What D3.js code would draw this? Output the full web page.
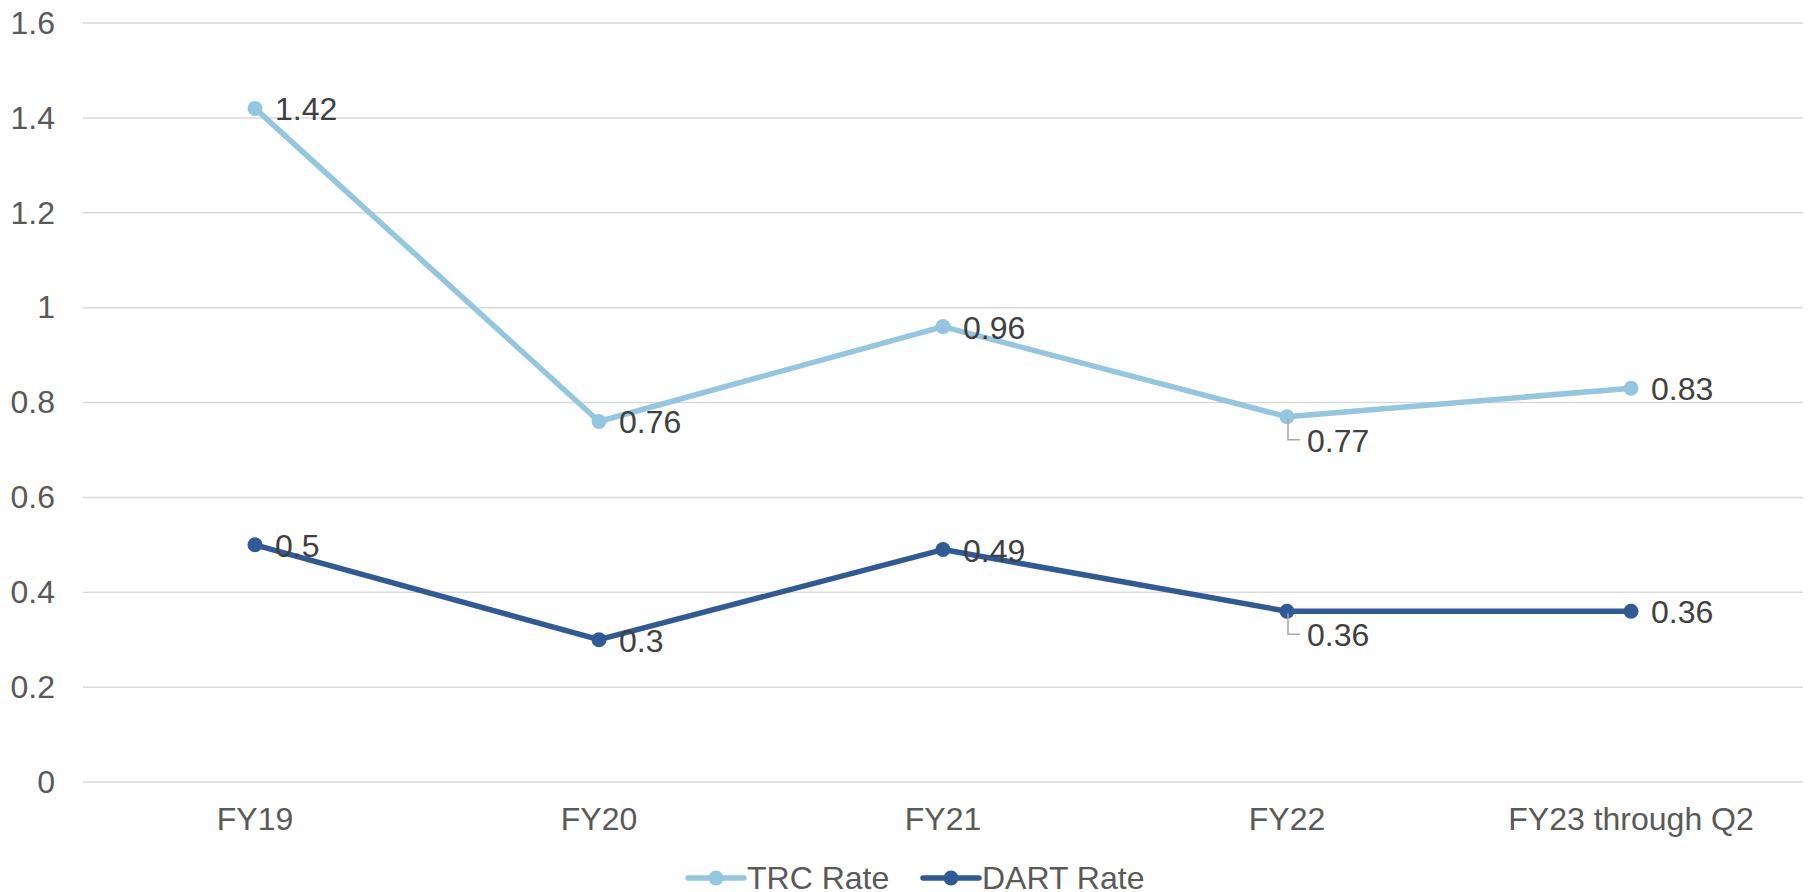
<!DOCTYPE html>
<html>
<head>
<meta charset="utf-8">
<script src="https://cdn.jsdelivr.net/npm/d3@7"></script>
<style>
  html, body { margin: 0; padding: 0; background: #fff; }
  svg { display: block; font-family: "Liberation Sans", Arial, sans-serif; }
</style>
</head>
<body>
<div id="chart"></div>
<script>
// ---- data ----
const categories = ["FY19", "FY20", "FY21", "FY22", "FY23 through Q2"];
const trcRate = [1.42, 0.76, 0.96, 0.77, 0.83];
const dartRate = [0.5, 0.3, 0.49, 0.36, 0.36];
const yTicks = [0, 0.2, 0.4, 0.6, 0.8, 1, 1.2, 1.4, 1.6];
const seriesNames = ["TRC Rate", "DART Rate"];
// labels pushed below with a leader line (index of category)
const leaderIdx = [3];

// ---- layout ----
const width = 1810, height = 892;
const margin = { top: 23, right: 7, bottom: 110, left: 83 };
const colors = ["#93c6e0", "#2e5b97"];

const svg = d3.select("#chart").append("svg")
  .attr("width", width).attr("height", height);

const x = d3.scaleBand()
  .domain(categories)
  .range([margin.left, width - margin.right])
  .padding(0);

const y = d3.scaleLinear()
  .domain([0, 1.6])
  .range([height - margin.bottom, margin.top]);

// gridlines
svg.append("g").selectAll("line")
  .data(yTicks).enter().append("line")
  .attr("x1", margin.left).attr("x2", width - margin.right)
  .attr("y1", d => y(d)).attr("y2", d => y(d))
  .attr("stroke", "#d9d9d9").attr("stroke-width", 1.5);

// y axis labels
const yAxis = d3.axisLeft(y).tickValues(yTicks).tickSize(0).tickPadding(28)
  .tickFormat(d3.format("~g"));
svg.append("g")
  .attr("transform", `translate(${margin.left},0)`)
  .call(yAxis)
  .call(g => g.select(".domain").remove())
  .call(g => g.selectAll("text")
    .attr("fill", "#595959").style("font-size", "32px")
    .style("font-family", "Liberation Sans, Arial, sans-serif"));

// x axis labels
const xAxis = d3.axisBottom(x).tickSize(0).tickPadding(0);
svg.append("g")
  .attr("transform", `translate(0,${y(0)})`)
  .call(xAxis)
  .call(g => g.select(".domain").remove())
  .call(g => g.selectAll("text")
    .attr("dy", null).attr("y", 48)
    .attr("fill", "#595959").style("font-size", "32px")
    .style("font-family", "Liberation Sans, Arial, sans-serif"));

const cx = d => x(d) + x.bandwidth() / 2;
const line = d3.line()
  .x((d, i) => cx(categories[i]))
  .y(d => y(d));

[trcRate, dartRate].forEach((vals, s) => {
  const g = svg.append("g");
  g.append("path")
    .datum(vals)
    .attr("d", line)
    .attr("fill", "none")
    .attr("stroke", colors[s])
    .attr("stroke-width", 5.5)
    .attr("stroke-linejoin", "round")
    .attr("stroke-linecap", "round");

  g.selectAll("circle")
    .data(vals).enter().append("circle")
    .attr("cx", (d, i) => cx(categories[i]))
    .attr("cy", d => y(d))
    .attr("r", 7.5)
    .attr("fill", colors[s]);

  // leader lines
  g.selectAll("path.leader")
    .data(vals.map((v, i) => ({ v, i })).filter(d => leaderIdx.includes(d.i)))
    .enter().append("path")
    .attr("class", "leader")
    .attr("d", d => {
      const px = cx(categories[d.i]) + 1, py = y(d.v) + 2;
      return `M${px},${py}V${py + 21}H${px + 12}`;
    })
    .attr("fill", "none")
    .attr("stroke", "#a6a6a6")
    .attr("stroke-width", 1.5);

  g.selectAll("text")
    .data(vals).enter().append("text")
    .attr("x", (d, i) => cx(categories[i]) + 20)
    .attr("y", (d, i) => y(d) + (leaderIdx.includes(i) ? 24 : 1))
    .attr("dominant-baseline", "central")
    .attr("fill", "#404040")
    .style("font-size", "32px")
    .text(d => d);
});

// legend
const legendY = 878;
const legendItems = [
  { name: seriesNames[0], color: colors[0], x0: 688 },
  { name: seriesNames[1], color: colors[1], x0: 923 }
];
const lg = svg.append("g").selectAll("g")
  .data(legendItems).enter().append("g")
  .attr("transform", d => `translate(${d.x0},${legendY})`);
lg.append("line")
  .attr("x1", 0).attr("x2", 56).attr("y1", 0).attr("y2", 0)
  .attr("stroke", d => d.color).attr("stroke-width", 5.5)
  .attr("stroke-linecap", "round");
lg.append("circle")
  .attr("cx", 28).attr("cy", 0).attr("r", 7.5)
  .attr("fill", d => d.color);
lg.append("text")
  .attr("x", 59).attr("y", 11)
  .attr("fill", "#595959")
  .style("font-size", "32px")
  .text(d => d.name);
</script>
</body>
</html>
